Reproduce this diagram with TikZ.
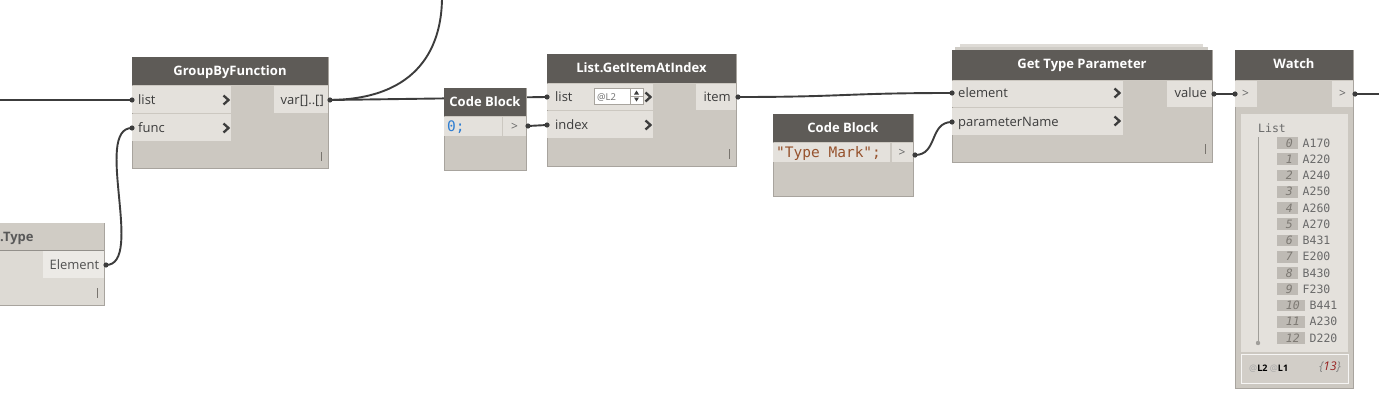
\documentclass[tikz,border=0pt]{standalone}
\usepackage{fontspec}
\setmainfont{Open Sans}
\setmonofont{DejaVu Sans Mono}
\definecolor{hdrc}{RGB}{94,91,87}
\definecolor{bodyc}{RGB}{204,200,193}
\definecolor{panelc}{RGB}{228,225,220}
\definecolor{borderc}{RGB}{168,164,158}
\definecolor{txtc}{RGB}{60,60,60}
\definecolor{wirec}{RGB}{60,60,60}
\definecolor{ethdrc}{RGB}{208,204,197}
\definecolor{etbodyc}{RGB}{221,218,212}
\definecolor{etpanelc}{RGB}{236,234,230}
\definecolor{codeblue}{RGB}{45,125,210}
\definecolor{codebrown}{RGB}{150,82,45}
\definecolor{idxfillc}{RGB}{190,186,180}
\definecolor{idxtxtc}{RGB}{125,121,115}
\definecolor{valtxtc}{RGB}{105,105,105}
\definecolor{gripc}{RGB}{120,116,110}
\definecolor{stackA}{RGB}{222,219,214}
\definecolor{stackB}{RGB}{207,204,198}
\definecolor{footc}{RGB}{210,206,200}
\definecolor{darkredc}{RGB}{150,30,30}
\begin{document}
\begin{tikzpicture}[x=1pt,y=-1pt,
  wire/.style={draw=wirec,line width=1.9pt},
  nodebody/.style={fill=bodyc,draw=borderc,line width=0.8pt},
  hdrfill/.style={fill=hdrc},
  panelfill/.style={fill=panelc},
  hdrtxt/.style={text=white,font=\fontsize{13}{15}\selectfont\bfseries,inner sep=0pt,anchor=base},
  lbl/.style={text=txtc,font=\fontsize{13}{15}\selectfont,inner sep=0pt},
  chev/.style={draw=txtc,line width=2.3pt,line cap=butt,line join=miter},
  grip/.style={draw=gripc,line width=1pt},
  portdot/.style={fill=wirec},
  outgt/.style={text=txtc!80,font=\fontsize{12}{14}\selectfont,inner sep=0pt,anchor=base},
  idx/.style={text=idxtxtc,font=\fontsize{11.5}{13}\selectfont\ttfamily\itshape,inner sep=0pt},
  val/.style={text=valtxtc,font=\fontsize{11.5}{13}\selectfont\ttfamily,inner sep=0pt}
]
\useasboundingbox (0,0) rectangle (1379,412);
\fill[white] (0,0) rectangle (1379,412);

% ports
\coordinate (leftEnd) at (-2,100);
\coordinate (topEnd) at (442,-3);
\coordinate (gbfList) at (132,100);
\coordinate (gbfFunc) at (132,128);
\coordinate (gbfOut) at (330,100);
\coordinate (etOut) at (106,265);
\coordinate (cb1Out) at (528,126);
\coordinate (giaiList) at (547,97);
\coordinate (giaiIndex) at (547,125);
\coordinate (giaiOut) at (738,97);
\coordinate (cb2Out) at (915,155);
\coordinate (gtpElem) at (952,93);
\coordinate (gtpParam) at (952,122);
\coordinate (gtpOut) at (1214,94);
\coordinate (watchIn) at (1235,94);
\coordinate (watchOut) at (1355,94);
\coordinate (rightEnd) at (1381,94);

% wires
\draw[wire] (leftEnd) -- (gbfList);
\draw[wire] (gbfOut) .. controls (420,99) and (442,45) .. (topEnd);
\draw[wire] (gbfOut) -- (giaiList);
\draw[wire] (etOut) .. controls (145,265) and (93,128) .. (gbfFunc);
\draw[wire] (cb1Out) -- (giaiIndex);
\draw[wire] (giaiOut) .. controls (845,97) and (845,93) .. (gtpElem);
\draw[wire] (cb2Out) .. controls (938,155) and (929,122) .. (gtpParam);
\draw[wire] (gtpOut) -- (watchIn);
\draw[wire] (watchOut) -- (rightEnd);

% ---------- Element.Type (partial) ----------
\draw[fill=etbodyc,draw=borderc,line width=0.8pt] (-5,223) rectangle (104,305);
\fill[ethdrc] (-5,223.4) rectangle (103.6,250);
\draw[draw=gripc!80,line width=0.8pt] (-5,250) -- (104,250);
\fill[etpanelc] (43,251) rectangle (103.6,278);
\node[lbl,anchor=base west,text=txtc!85,font=\fontsize{13}{15}\selectfont\bfseries] (etT) at (0,241) {.Type};
\node[lbl,anchor=base east,text=txtc!90] (etO) at (99.5,269.5) {Element};
\draw[grip] (97,288) -- (97,298);
\fill[portdot] (etOut) circle (2.6);

% ---------- GroupByFunction ----------
\draw[nodebody] (132,57) rectangle (328,168);
\fill[hdrfill] (132,57) rectangle (328,85);
\fill[panelfill] (132.4,86) rectangle (231,113);
\fill[panelfill] (132.4,114) rectangle (231,141);
\fill[panelfill] (274,86) rectangle (327.6,113);
\node[hdrtxt] (gbfT) at (230,76) {GroupByFunction};
\node[lbl,anchor=base west] (gbfL1) at (138,104.5) {list};
\node[lbl,anchor=base west] (gbfL2) at (138,132.5) {func};
\node[lbl,anchor=base east] (gbfO) at (324,104.5) {var[]..[]};
\draw[chev] (223.5,95.5) -- (228.5,100) -- (223.5,104.5);
\draw[chev] (223.5,123.5) -- (228.5,128) -- (223.5,132.5);
\draw[grip] (321,152) -- (321,161);
\fill[portdot] (gbfList) circle (2.6);
\fill[portdot] (gbfFunc) circle (2.6);
\fill[portdot] (gbfOut) circle (2.6);

% ---------- Code Block 1 ----------
\draw[nodebody] (444,88) rectangle (526,170);
\fill[hdrfill] (444,88) rectangle (526,116);
\fill[panelfill] (444.4,117) rectangle (502,136);
\fill[panelfill] (503,117) rectangle (525.6,136);
\node[hdrtxt] (cb1T) at (485,106.5) {Code Block};
\node[lbl,anchor=base west,text=codeblue,font=\fontsize{14.5}{16}\selectfont\ttfamily] (cb1C) at (447,131) {0;};
\node[outgt] (cb1G) at (514.5,130.5) {>};
\fill[portdot] (cb1Out) circle (2.6);

% ---------- List.GetItemAtIndex ----------
\draw[nodebody] (547,54) rectangle (736,166);
\fill[hdrfill] (547,54) rectangle (736,83);
\fill[panelfill] (547.4,84) rectangle (653,110);
\fill[panelfill] (547.4,111) rectangle (653,138);
\fill[panelfill] (696,84) rectangle (735.6,110);
\node[hdrtxt] (giaiT) at (641.5,73) {List.GetItemAtIndex};
\node[lbl,anchor=base west] (giaiL1) at (555,101.5) {list};
\node[lbl,anchor=base west] (giaiL2) at (555,129.5) {index};
\node[lbl,anchor=base east] (giaiO) at (731,101.5) {item};
\draw[fill=white,draw=borderc,line width=0.8pt] (594,88) rectangle (643,104);
\node[anchor=base west,inner sep=0pt,text=txtc!75,font=\fontsize{9.5}{11}\selectfont] (giaiSpin) at (597,100) {@L2};
\draw[draw=borderc,line width=0.6pt] (630,88) -- (630,104) (630,96) -- (643,96);
\fill[txtc] (634,94.5) -- (636.5,90.5) -- (639,94.5) -- cycle;
\fill[txtc] (634,97.5) -- (636.5,101.5) -- (639,97.5) -- cycle;
\draw[chev] (645.5,92.5) -- (650.5,97) -- (645.5,101.5);
\draw[chev] (645.5,120.5) -- (650.5,125) -- (645.5,129.5);
\draw[grip] (729,149) -- (729,159);
\fill[portdot] (giaiList) circle (2.6);
\fill[portdot] (giaiIndex) circle (2.6);
\fill[portdot] (giaiOut) circle (2.6);

% ---------- Code Block 2 ----------
\draw[nodebody] (773,114) rectangle (913,196);
\fill[hdrfill] (773,114) rectangle (913,142);
\fill[panelfill] (773.4,143) rectangle (890,162);
\fill[panelfill] (892,143) rectangle (912.6,162);
\node[hdrtxt] (cb2T) at (843,132.5) {Code Block};
\node[lbl,anchor=base west,text=codebrown,font=\fontsize{14.5}{16}\selectfont\ttfamily] (cb2C) at (776,157.5) {"Type Mark";};
\node[outgt] (cb2G) at (902,156.5) {>};
\fill[portdot] (cb2Out) circle (2.6);

% ---------- Get Type Parameter ----------
\fill[stackA] (960,44.5) rectangle (1203,47);
\fill[stackB] (955,47) rectangle (1208,50);
\draw[nodebody] (952,50) rectangle (1212,162);
\fill[hdrfill] (952,50) rectangle (1212,80);
\fill[panelfill] (952.4,81) rectangle (1123,107);
\fill[panelfill] (952.4,108) rectangle (1123,135);
\fill[panelfill] (1167,81) rectangle (1211.6,107);
\node[hdrtxt] (gtpT) at (1082,68.5) {Get Type Parameter};
\node[lbl,anchor=base west] (gtpL1) at (958,98) {element};
\node[lbl,anchor=base west] (gtpL2) at (958,126.5) {parameterName};
\node[lbl,anchor=base east] (gtpO) at (1207,98) {value};
\draw[chev] (1114.5,88.5) -- (1119.5,93) -- (1114.5,97.5);
\draw[chev] (1114.5,116.5) -- (1119.5,121) -- (1114.5,125.5);
\draw[grip] (1205,144) -- (1205,154);
\fill[portdot] (gtpElem) circle (2.6);
\fill[portdot] (gtpParam) circle (2.6);
\fill[portdot] (gtpOut) circle (2.6);

% ---------- Watch ----------
\draw[nodebody] (1235,50) rectangle (1353,388);
\fill[hdrfill] (1235,50) rectangle (1353,80);
\fill[panelfill] (1235.4,81) rectangle (1257,107);
\fill[panelfill] (1332,81) rectangle (1352.6,107);
\node[hdrtxt] (wT) at (1294,68.5) {Watch};
\node[outgt] (wIn) at (1245.5,98) {>};
\node[outgt] (wOut) at (1342.5,98) {>};
\fill[portdot] (watchIn) circle (2.6);
\fill[portdot] (watchOut) circle (2.6);
\fill[panelc] (1241,114) rectangle (1348,352);
\node[val,anchor=base west] (wList) at (1258,132) {List};
\draw[draw=gripc!70,line width=1pt] (1258,137) -- (1258,343);
\fill[gripc!70] (1258,343) circle (2.2);
\foreach \i/\v in {0/A170,1/A220,2/A240,3/A250,4/A260,5/A270,6/B431,7/E200,8/B430,9/F230,10/B441,11/A230,12/D220}{
  \pgfmathsetmacro\yy{143+\i*16.25}
  \ifnum\i<10 \def\bx{1298}\else\def\bx{1305}\fi
  \fill[idxfillc] (1277,\yy-5.8) rectangle (\bx,\yy+5.8);
  \node[idx,anchor=base east] (wi\i) at (\bx-5,\yy+4) {\i};
  \node[val,anchor=base west] (wv\i) at (\bx+4.5,\yy+4.2) {\v};
}
\draw[fill=footc,draw=white!80!footc,line width=0.8pt] (1241,354) rectangle (1348,383);
\node[anchor=base west,inner sep=0pt,font=\fontsize{9}{10}\selectfont] (wLev) at (1249,371.5) {\textcolor{gray!70}{@}\textbf{L2} \textcolor{gray!70}{@}\textbf{L1}};
\node[anchor=base east,inner sep=0pt,font=\fontsize{12}{14}\selectfont\itshape] (wCnt) at (1341,370.5) {\textcolor{gray}{\{}\textcolor{darkredc}{13}\textcolor{gray}{\}}};
\end{tikzpicture}
\end{document}
